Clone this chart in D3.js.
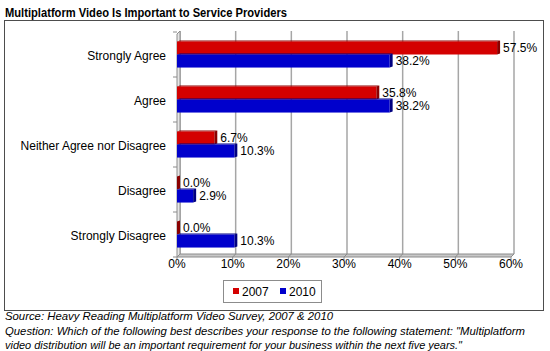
<!DOCTYPE html>
<html>
<head>
<meta charset="utf-8">
<script src="https://cdn.jsdelivr.net/npm/d3@7"></script>
<style>
  body { margin: 0; background: #fff; }
  text { font-family: Arial, "Liberation Sans", sans-serif; fill: #000; }
</style>
</head>
<body>
<div id="chart"></div>
<script>
const categories = ["Strongly Agree", "Agree", "Neither Agree nor Disagree", "Disagree", "Strongly Disagree"];
const series = ["2007", "2010"];
const values2007 = [57.5, 35.8, 6.7, 0.0, 0.0];
const values2010 = [38.2, 38.2, 10.3, 2.9, 10.3];
const xTicks = [0, 10, 20, 30, 40, 50, 60];

const colors = { "2007": "#d40000", "2010": "#0000cc" };
const capColors = { "2007": "#8a0000", "2010": "#000080" };
const depth = 3;

const svg = d3.select("#chart").append("svg")
    .attr("width", 550)
    .attr("height", 351);

// title
svg.append("text")
    .attr("x", 5)
    .attr("y", 17)
    .attr("textLength", 282)
    .attr("lengthAdjust", "spacingAndGlyphs")
    .style("font-size", "12px")
    .style("font-weight", "bold")
    .text("Multiplatform Video Is Important to Service Providers");

// frame
svg.append("rect")
    .attr("x", 4.5).attr("y", 20.5)
    .attr("width", 539).attr("height", 290)
    .attr("fill", "#fff")
    .attr("stroke", "#4d4d4d");

// scales
const x = d3.scaleLinear().domain([0, 60]).range([177, 511]);
const y = d3.scaleBand().domain(categories).range([32, 257])
    .paddingInner(0.42).paddingOuter(0.21);
const yTop = 31, yBottom = 257;

// gridlines on the back wall
svg.append("g").selectAll("line")
    .data(xTicks)
    .enter().append("line")
    .attr("x1", d => x(d) + depth)
    .attr("x2", d => x(d) + depth)
    .attr("y1", yTop)
    .attr("y2", yBottom - depth)
    .attr("stroke", "#a6a6a6")
    .attr("stroke-width", 1.5);

// floor
svg.append("path")
    .attr("d", `M${x(0)},${yBottom} L${x(60)},${yBottom} L${x(60) + depth},${yBottom - depth} L${x(0) + depth},${yBottom - depth} Z`)
    .attr("fill", "#c8c8c8")
    .attr("stroke", "#8c8c8c");

// floor grid diagonals
svg.append("g").selectAll("line")
    .data(xTicks)
    .enter().append("line")
    .attr("x1", d => x(d))
    .attr("x2", d => x(d) + depth)
    .attr("y1", yBottom)
    .attr("y2", yBottom - depth)
    .attr("stroke", "#8c8c8c");

// left wall
svg.append("path")
    .attr("d", `M${x(0)},${yTop + depth} L${x(0)},${yBottom} L${x(0) + depth},${yBottom - depth} L${x(0) + depth},${yTop} Z`)
    .attr("fill", "#e6e6e6")
    .attr("stroke", "#8c8c8c");

// y axis ticks at band edges
const edges = categories.map(c => y(c) - y.step() * y.paddingInner() / 2).concat([yBottom]);
svg.append("g").selectAll("line")
    .data(edges)
    .enter().append("line")
    .attr("x1", x(0) - 4).attr("x2", x(0))
    .attr("y1", d => d).attr("y2", d => d)
    .attr("stroke", "#8c8c8c");

// x tick marks
svg.append("g").selectAll("line")
    .data(xTicks)
    .enter().append("line")
    .attr("x1", d => x(d)).attr("x2", d => x(d))
    .attr("y1", yBottom).attr("y2", yBottom + 3)
    .attr("stroke", "#8c8c8c");

// x tick labels
svg.append("g").selectAll("text")
    .data(xTicks)
    .enter().append("text")
    .attr("x", d => x(d))
    .attr("y", 268)
    .attr("text-anchor", "middle")
    .style("font-size", "12px")
    .text(d => d + "%");

// category labels
svg.append("g").selectAll("text")
    .data(categories)
    .enter().append("text")
    .attr("x", 166)
    .attr("y", d => y(d) + y.bandwidth() / 2 + 2)
    .attr("text-anchor", "end")
    .attr("dominant-baseline", "middle")
    .style("font-size", "12px")
    .text(d => d);

// bars
const barH = y.bandwidth() / 2;
const barData = [];
categories.forEach((c, i) => {
    barData.push({ cat: c, s: "2007", v: values2007[i], off: 0 });
    barData.push({ cat: c, s: "2010", v: values2010[i], off: barH });
});

const bars = svg.append("g").selectAll("g")
    .data(barData)
    .enter().append("g");

// top face
bars.append("path")
    .attr("d", d => {
        const y0 = y(d.cat) + d.off, x0 = x(0), x1 = x(d.v);
        return `M${x0},${y0} L${x0 + depth},${y0 - 1} L${x1 + depth},${y0 - 1} L${x1},${y0} Z`;
    })
    .attr("fill", d => capColors[d.s]);

// right cap
bars.append("path")
    .attr("d", d => {
        const y0 = y(d.cat) + d.off, x1 = x(d.v);
        return `M${x1},${y0} L${x1 + depth},${y0 - 1} L${x1 + depth},${y0 + barH - 1} L${x1},${y0 + barH} Z`;
    })
    .attr("fill", d => capColors[d.s]);

// front face
bars.append("rect")
    .attr("x", x(0))
    .attr("y", d => y(d.cat) + d.off)
    .attr("width", d => x(d.v) - x(0))
    .attr("height", barH)
    .attr("fill", d => colors[d.s]);

// value labels
bars.append("text")
    .attr("x", d => x(d.v) + depth + 3)
    .attr("y", d => y(d.cat) + d.off + barH / 2 + 1)
    .attr("dominant-baseline", "middle")
    .style("font-size", "12px")
    .text(d => d.v.toFixed(1) + "%");

// legend
const legend = svg.append("g");
legend.append("rect")
    .attr("x", 223.5).attr("y", 280.5)
    .attr("width", 98).attr("height", 22)
    .attr("fill", "#fff")
    .attr("stroke", "#8c8c8c");

const legendX = [233, 280];
series.forEach((s, i) => {
    legend.append("rect")
        .attr("x", legendX[i]).attr("y", 288)
        .attr("width", 6).attr("height", 6)
        .attr("fill", colors[s]);
    legend.append("text")
        .attr("x", legendX[i] + 9)
        .attr("y", 296)
        .style("font-size", "12px")
        .text(s);
});

// footer
const footer = [
    { t: "Source: Heavy Reading Multiplatform Video Survey, 2007 & 2010", y: 320, w: 328 },
    { t: "Question: Which of the following best describes your response to the following statement: \"Multiplatform", y: 335, w: 520 },
    { t: "video distribution will be an important requirement for your business within the next five years.\"", y: 349, w: 457 }
];
svg.append("g").selectAll("text")
    .data(footer)
    .enter().append("text")
    .attr("x", 5)
    .attr("y", d => d.y)
    .attr("textLength", d => d.w)
    .attr("lengthAdjust", "spacingAndGlyphs")
    .style("font-size", "11px")
    .style("font-style", "italic")
    .text(d => d.t);
</script>
</body>
</html>
